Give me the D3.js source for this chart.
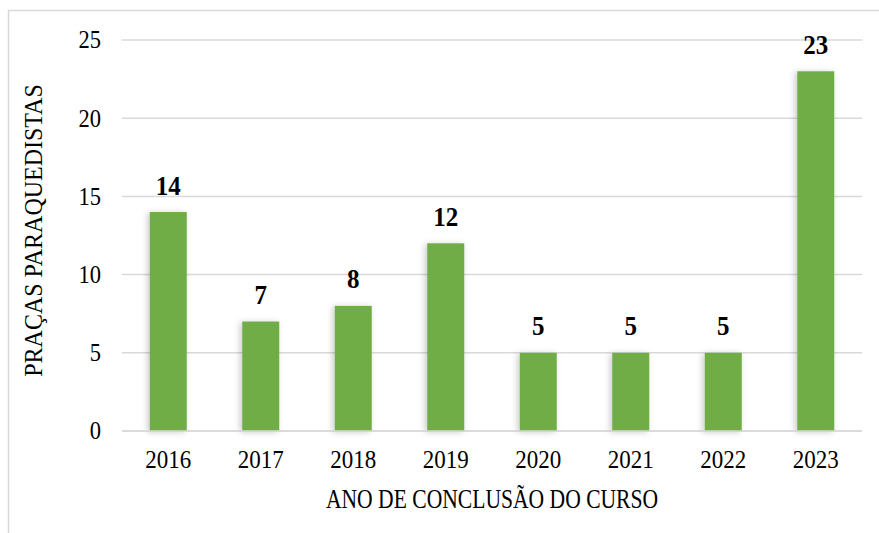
<!DOCTYPE html>
<html><head><meta charset="utf-8">
<script src="https://cdn.jsdelivr.net/npm/d3@7"></script>
<style>
html,body{margin:0;padding:0;background:#fff;}
svg{display:block;}
</style></head>
<body>
<script>
const categories = ["2016","2017","2018","2019","2020","2021","2022","2023"];
const values = [14, 7, 8, 12, 5, 5, 5, 23];
const yTicks = [0, 5, 10, 15, 20, 25];
const xTitle = "ANO DE CONCLUSÃO DO CURSO";
const yTitle = "PRAÇAS PARAQUEDISTAS";

const W = 879, H = 533;
const m = {left:122, right:17, top:40, bottom:102};
const svg = d3.select("body").append("svg").attr("width", W).attr("height", H);

const defs = svg.append("defs");
const f = defs.append("filter").attr("id","sh").attr("x","-50%").attr("y","-10%").attr("width","200%").attr("height","130%");
f.append("feDropShadow").attr("dx",-2).attr("dy",1).attr("stdDeviation",3).attr("flood-color","#000").attr("flood-opacity",0.22);

svg.append("rect").attr("x",8.5).attr("y",10.5).attr("width",W+20).attr("height",H+20)
  .attr("fill","#fff").attr("stroke","#d9d9d9").attr("stroke-width",1.5);

const x = d3.scaleBand().domain(categories).range([m.left, W - m.right]).paddingInner(0.6).paddingOuter(0.3);
const y = d3.scaleLinear().domain([0, 25]).range([H - m.bottom, m.top]);

const font = "'Liberation Serif','Times New Roman',serif";

function stretchText(g, px, py, txt, size, sy, opts = {}) {
  const gg = g.append("g").attr("transform", `translate(${px},${py}) ${opts.rotate ? "rotate(" + opts.rotate + ")" : ""} scale(1,${sy})`);
  gg.append("text").attr("x", 0).attr("y", 0)
    .attr("text-anchor", opts.anchor || "middle")
    .attr("font-family", font).attr("font-size", size)
    .attr("font-weight", opts.bold ? "bold" : "normal")
    .attr("fill", "#000").text(txt);
  return gg;
}

// gridlines
svg.append("g").selectAll("line").data(yTicks).join("line")
  .attr("x1", m.left).attr("x2", W - m.right)
  .attr("y1", d => y(d)).attr("y2", d => y(d))
  .attr("stroke", "#d9d9d9").attr("stroke-width", 1.5);

// y tick labels
const yg = svg.append("g");
yTicks.forEach(t => stretchText(yg, 101, y(t) + 8.3, d3.format("d")(t), 22.5, 1.1, {anchor: "end"}));

// bars
svg.append("g").selectAll("rect").data(values).join("rect")
  .attr("x", (d,i) => x(categories[i]))
  .attr("width", x.bandwidth())
  .attr("y", d => y(d))
  .attr("height", d => y(0) - y(d))
  .attr("fill", "#70ad47")
  .attr("filter", "url(#sh)");

// x axis line
svg.append("line").attr("x1", m.left).attr("x2", W - m.right)
  .attr("y1", y(0)).attr("y2", y(0)).attr("stroke", "#d9d9d9").attr("stroke-width", 1.5);

// x tick labels
const xg = svg.append("g");
categories.forEach(c => stretchText(xg, x(c) + x.bandwidth()/2, y(0) + 36.7, c, 23, 1.1));

// data labels
const lg = svg.append("g");
values.forEach((v, i) => stretchText(lg, x(categories[i]) + x.bandwidth()/2, y(v) - 17.4, String(v), 25, 1.12, {bold: true}));

// axis titles
stretchText(svg, (m.left + W - m.right)/2, 507.7, xTitle, 21.6, 1.22);
stretchText(svg, 42, 230.5, yTitle, 24, 1.08, {rotate: -90});
</script>
</body></html>
